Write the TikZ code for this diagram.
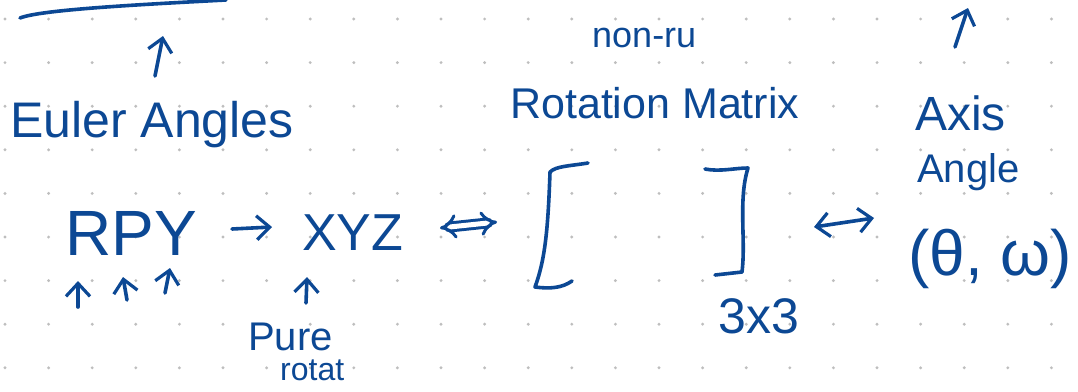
\documentclass[tikz,border=0pt]{standalone}
\usepackage{fontspec}
\setmainfont{Liberation Sans}
\usetikzlibrary{arrows.meta}
\definecolor{ink}{RGB}{12,72,148}
\definecolor{dotc}{RGB}{190,190,190}
\tikzset{
  hw/.style={text=ink, inner sep=0pt, anchor=base west},
  pen/.style={draw=ink, line width=3.6pt, line cap=round, line join=round},
  barb/.style={-{Straight Barb[length=13pt,width=24pt,line width=3.2pt]}},
  barbs/.style={{Straight Barb[length=13pt,width=24pt,line width=3.2pt]}-{Straight Barb[length=13pt,width=24pt,line width=3.2pt]}},
}
\newcommand{\fs}[1]{\fontsize{#1pt}{#1pt}\selectfont}
\begin{document}
\begin{tikzpicture}[x=1pt,y=-1pt]
\useasboundingbox (0,0) rectangle (1078,391);
\fill[white] (0,0) rectangle (1078,391);
% dot grid
\foreach \i in {0,...,24} \foreach \j in {0,...,8}
  \fill[dotc] ({5+43.6*\i},{19+43.6*\j}) circle (1.6);

% texts
\node[hw, font=\fs{50}] (euler) at (10,137) {Euler Angles};
\node[hw, font=\fs{36}] (nonru) at (592,47) {non-ru};
\node[hw, font=\fs{43}] (rotm) at (510,118) {Rotation Matrix};
\node[hw, font=\fs{48}] (axis) at (915,130) {Axis};
\node[hw, font=\fs{40}] (angle) at (917,182) {Angle};
\node[hw, font=\fs{64}] (rpy) at (65,255) {RPY};
\node[hw, font=\fs{52}] (xyz) at (302,250) {XYZ};
\node[hw, font=\fs{50}] (three) at (718,333) {3x3};
\node[hw, font=\fs{64}] (thw) at (908,275) {(θ, ω)};
\node[hw, font=\fs{40}] (pure) at (248,350) {Pure};
\node[hw, font=\fs{32}] (rotat) at (280,380) {rotat};

% matrix brackets
\node[inner sep=0pt, minimum width=215pt, minimum height=125pt] (mat) at (642,225) {};
\draw[pen] (588,163) .. controls (570,166) and (556,166) .. (550,172)
  .. controls (548,230) and (545,260) .. (535,287) .. controls (550,289) and (562,288) .. (572,281);
\draw[pen] (705,169) .. controls (720,172) and (735,168) .. (748,168)
  .. controls (738,200) and (746,240) .. (742,272) -- (715,275);

% top line
\draw[pen] (20,18) .. controls (40,10) and (130,5) .. (226,0);

% coordinates for connector ends
\coordinate (eulTip) at (163,36);
\coordinate (axTip) at (968,8);
\coordinate (a1) at (232,229);
\coordinate (a2) at (272,227);
\coordinate (d1) at (440,228);
\coordinate (d2) at (497,222);
\coordinate (e1) at (814,227);
\coordinate (e2) at (874,218);
\coordinate (rT) at (78,281);
\coordinate (pT) at (123,277);
\coordinate (yT) at (170,268);
\coordinate (xT) at (307,277);

% connectors
\draw[pen, barb] (155,76) -- (eulTip);
\draw[pen, barb] (955,47) -- (axTip);
\draw[pen, barb] (a1) -- (a2);
\draw[draw=ink, line width=3pt, double distance=5pt, line cap=round, {Implies[length=9pt]}-{Implies[length=9pt]}] (d1) -- (d2);
\draw[pen, barbs] (e1) -- (e2);
\draw[pen, barb] (78,307) -- (rT);
\draw[pen, barb] (127,300) -- (pT);
\draw[pen, barb] (165,293) -- (yT);
\draw[pen, barb] (306,303) -- (xT);
\end{tikzpicture}
\end{document}
